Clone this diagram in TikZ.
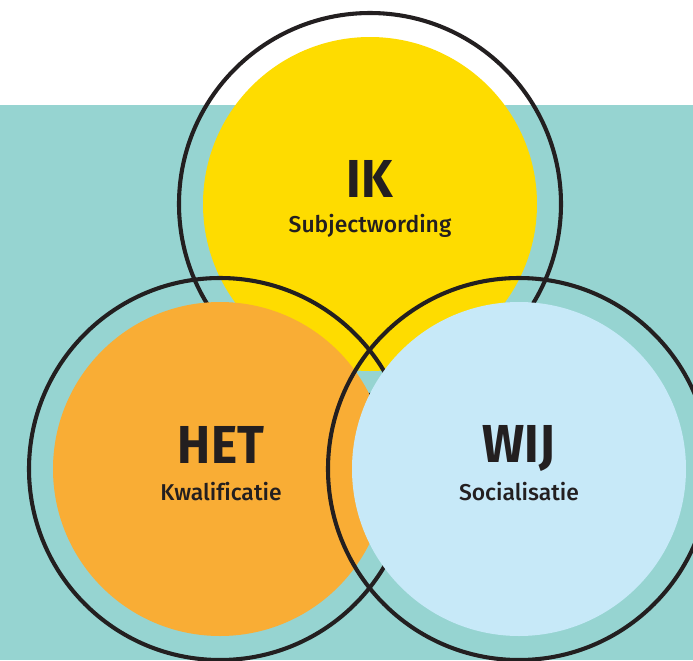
\documentclass[tikz,border=0pt]{standalone}
\usepackage{fontspec}
\setmainfont{Fira Sans}
\newfontfamily\medsans{Fira Sans Medium}[Ligatures=NoCommon]
\usepackage{tikz}

\definecolor{lagoon}{HTML}{96D4D1}
\definecolor{sunny}{HTML}{FEDC00}
\definecolor{amber}{HTML}{F9AD35}
\definecolor{sky}{HTML}{C7E9F8}
\definecolor{ink}{HTML}{231F20}

\begin{document}
\begin{tikzpicture}[x=0.025cm, y=-0.025cm,
    ring/.style={draw=ink, line width=2.9pt},
    title/.style={anchor=base, text=ink, xscale=0.93, font=\fontsize{38}{38}\selectfont\bfseries},
    sub/.style={anchor=base, text=ink, font=\fontsize{16.3}{16.3}\selectfont\medsans}]
    \clip (0,0) rectangle (693,660);
    \fill[white] (0,0) rectangle (693,105);
    \fill[lagoon] (0,105) rectangle (693,660);

    % centres of the three circles
    \coordinate (ik) at (370,204);
    \coordinate (het) at (220,469);
    \coordinate (wij) at (519,469);

    % IK
    \fill[sunny] (ik) circle (167);
    \draw[ring] (ik) circle (191);
    % HET
    \fill[amber] (het) circle (167);
    \draw[ring] (het) circle (191);
    % WIJ
    \fill[sky] (wij) circle (167);
    \draw[ring] (wij) circle (191);

    \node[title] (ikname) at (370,197) {IK};
    \node[sub] (iksub) at (370,232) {Subjectwording};
    \node[title] (hetname) at (221,463) {HET};
    \node[sub] (hetsub) at (221,500) {Kwalificatie};
    \node[title] (wijname) at (519,462) {WIJ};
    \node[sub] (wijsub) at (519,500) {Socialisatie};
\end{tikzpicture}
\end{document}
